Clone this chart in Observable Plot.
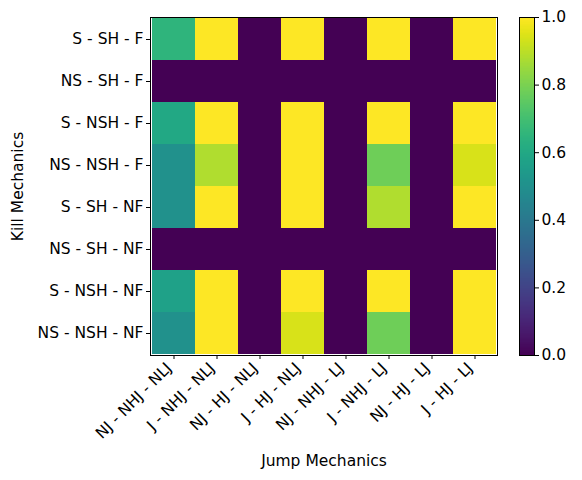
<!DOCTYPE html>
<html><head><meta charset="utf-8">
<script src="https://cdn.jsdelivr.net/npm/d3@7"></script>
<script src="https://cdn.jsdelivr.net/npm/@observablehq/plot@0.6"></script>
<style>
body{margin:0;background:#fff;font-family:"DejaVu Sans",sans-serif}
#wrap{position:relative;width:582px;height:480px;background:#fff}
#wrap svg{position:absolute;top:0}
</style>
</head><body><div id="wrap"></div>
<script>
const jumpMechanics = ["NJ - NHJ - NLJ","J - NHJ - NLJ","NJ - HJ - NLJ","J - HJ - NLJ","NJ - NHJ - LJ","J - NHJ - LJ","NJ - HJ - LJ","J - HJ - LJ"];
const killMechanics = ["S - SH - F","NS - SH - F","S - NSH - F","NS - NSH - F","S - SH - NF","NS - SH - NF","S - NSH - NF","NS - NSH - NF"];
const values = [
  [0.65,1,0,1,0,1,0,1],
  [0,0,0,0,0,0,0,0],
  [0.60,1,0,1,0,1,0,1],
  [0.50,0.88,0,1,0,0.78,0,0.94],
  [0.50,1,0,1,0,0.88,0,1],
  [0,0,0,0,0,0,0,0],
  [0.57,1,0,1,0,1,0,1],
  [0.50,1,0,0.94,0,0.78,0,1]
];
const colorbarTicks = [0,0.2,0.4,0.6,0.8,1.0];

const cells = killMechanics.flatMap((k,i)=>jumpMechanics.map((j,c)=>({kill:k,jump:j,value:values[i][c]})));
const FS = 15.5;
const font = {fontFamily:"DejaVu Sans",fontSize:FS+"px",color:"black",background:"transparent"};

const heat = Plot.plot({
  width:510,height:480,marginLeft:150,marginRight:13,marginTop:17,marginBottom:125,
  style:font,
  x:{domain:jumpMechanics,padding:0},
  y:{domain:killMechanics,padding:0},
  color:{type:"linear",scheme:"viridis",domain:[0,1]},
  marks:[
    Plot.cell(cells,{x:"jump",y:"kill",fill:"value"}),
    Plot.frame({stroke:"black",strokeWidth:1}),
    Plot.axisX({tickSize:4,tickFormat:()=>"",label:null}),
    Plot.axisX({tickRotate:-45,tickSize:0,tickPadding:10,dx:-5,fontSize:FS,label:"Jump Mechanics",labelAnchor:"center",labelOffset:110}),
    Plot.axisY({tickSize:4,tickPadding:3,fontSize:FS,label:"Kill Mechanics",labelAnchor:"center",labelOffset:139})
  ]
});
heat.style.left="0px";

const steps = d3.range(256).map(i=>i/256);
const bar = Plot.plot({
  width:82,height:480,marginLeft:19,marginRight:48,marginTop:17,marginBottom:125,
  style:font,
  y:{domain:[0,1],label:null},
  color:{type:"linear",scheme:"viridis",domain:[0,1]},
  marks:[
    Plot.rect(steps,{y1:d=>d,y2:d=>Math.min(1,d+1.6/256),fill:d=>d+0.5/256,shapeRendering:"crispEdges"}),
    Plot.frame({stroke:"black",strokeWidth:1}),
    Plot.axisY({anchor:"right",ticks:colorbarTicks,tickFormat:d3.format(".1f"),tickSize:4,tickPadding:3,fontSize:FS,label:null})
  ]
});
bar.style.left="500px";

document.getElementById("wrap").append(heat,bar);
</script>
</body></html>
